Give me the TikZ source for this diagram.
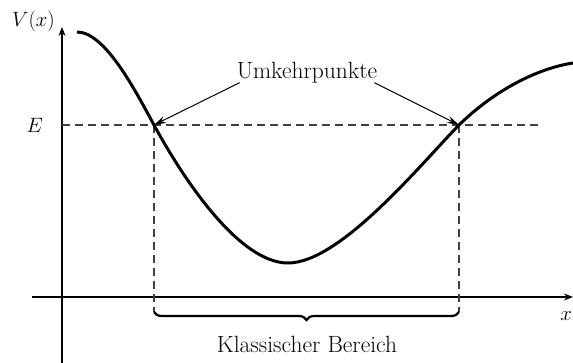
\documentclass[tikz,border=0pt]{standalone}
\usetikzlibrary{arrows.meta,decorations.pathreplacing}
\begin{document}
\begin{tikzpicture}[x=1pt,y=-1pt,
  axis/.style={line width=1.4pt,-{Stealth[length=9pt,width=7pt]}},
  curvepath/.style={line width=3pt},
  guide/.style={line width=1.1pt,dash pattern=on 8pt off 5pt,black!75},
  pointer/.style={line width=1pt,-{Stealth[length=12pt,width=7pt]}},
  lbl/.style={font=\fontsize{23.5}{28}\selectfont,inner sep=1pt},
  axlbl/.style={font=\fontsize{21}{25}\selectfont,inner sep=1pt}]
\useasboundingbox (0,0) rectangle (573,363);
% axes
\coordinate (yb) at (62,363);
\coordinate (yt) at (62,27);
\coordinate (xl) at (32,297);
\coordinate (xr) at (573,297);
\draw[axis] (yb) -- (yt);
\draw[axis] (xl) -- (xr);
\node[axlbl,anchor=east] (vx) at (56,21) {$V(x)$};
\node[axlbl,anchor=east] (xlab) at (573,316) {$x$};
% energy level
\coordinate (e0) at (62,125);
\coordinate (e1) at (543,125);
\node[axlbl,anchor=east] (elab) at (44,125) {$E$};
\draw[guide] (e0) -- (e1);
% turning points
\coordinate (tl) at (154,125);
\coordinate (tr) at (459,125);
\coordinate (bl) at (154,312);
\coordinate (br) at (459,312);
\draw[guide] (tl) -- (bl);
\draw[guide] (tr) -- (br);
% potential curve
\draw[curvepath] (77,32) .. controls (105,32) and (135,90) .. (tl)
  .. controls (185,182) and (240,263) .. (288,263)
  .. controls (340,263) and (420,165) .. (tr)
  .. controls (497,88) and (540,68) .. (573,63);
% labels
\node[lbl] (umk) at (307,73) {Umkehrpunkte};
\draw[pointer] (umk.south west) ++(4,-2) -- (tl);
\draw[pointer] (umk.south east) ++(-4,-2) -- (tr);
\draw[line width=2.2pt,decorate,decoration={brace,mirror,amplitude=8pt}] (bl) -- (br);
\node[lbl] (kb) at (307,344) {Klassischer Bereich};
\end{tikzpicture}
\end{document}
